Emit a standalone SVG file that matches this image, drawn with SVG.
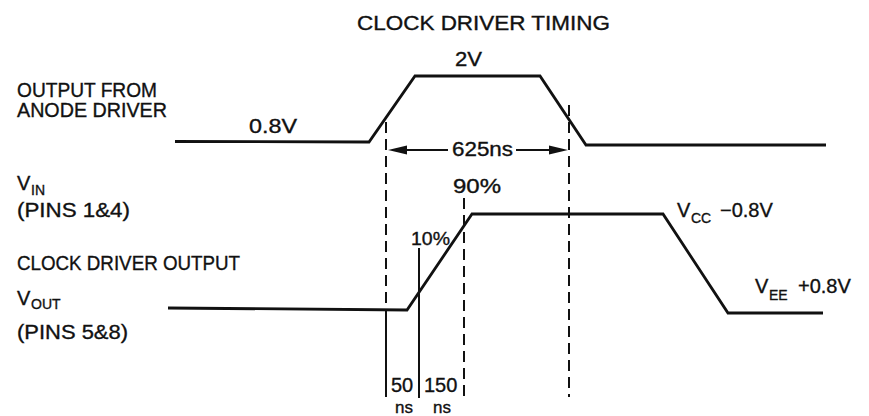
<svg xmlns="http://www.w3.org/2000/svg" width="869" height="416" viewBox="0 0 869 416">
<style>
text{font-family:"Liberation Sans",Arial,sans-serif;fill:#111;stroke:#111;stroke-width:0.35;font-size:20px}
.sub{font-size:14px}
.sm{font-size:18px}
.ns{font-size:17px}
.wave{fill:none;stroke:#111;stroke-width:2.8;stroke-linejoin:miter}
.dash{fill:none;stroke:#111;stroke-width:2;stroke-dasharray:11 6}
.thin{fill:none;stroke:#111;stroke-width:2}
.head{fill:#111}
</style>
<rect width="869" height="416" fill="#fff"/>
<g id="labels">
<text x="357" y="30" textLength="253" lengthAdjust="spacingAndGlyphs">CLOCK DRIVER TIMING</text>
<text x="17" y="97" textLength="140" lengthAdjust="spacingAndGlyphs">OUTPUT FROM</text>
<text x="17" y="117" textLength="150" lengthAdjust="spacingAndGlyphs">ANODE DRIVER</text>
<text x="17" y="190">V<tspan class="sub" x="31" dy="5">IN</tspan></text>
<text x="17" y="217" textLength="113" lengthAdjust="spacingAndGlyphs">(PINS 1&amp;4)</text>
<text x="17" y="270" textLength="223" lengthAdjust="spacingAndGlyphs">CLOCK DRIVER OUTPUT</text>
<text x="17" y="305">V<tspan class="sub" x="31" dy="4">OUT</tspan></text>
<text x="17" y="339" textLength="111" lengthAdjust="spacingAndGlyphs">(PINS 5&amp;8)</text>
</g>
<g id="anode-wave">
<path class="wave" d="M175 141.5 L369 142 L415 76 L540 76 L586 145 L826 145"/>
<text x="249" y="133" textLength="48" lengthAdjust="spacingAndGlyphs">0.8V</text>
<text x="455" y="66" textLength="27" lengthAdjust="spacingAndGlyphs">2V</text>
</g>
<g id="clock-wave">
<path class="wave" d="M168 308 L407 310 L472 214 L663 214 L728 313 L823 313"/>
<text x="677" y="217">V<tspan class="sub" x="691" dy="6">CC</tspan><tspan x="720" dy="-6">−0.8V</tspan></text>
<text x="755" y="293">V<tspan class="sub" x="769" dy="7">EE</tspan><tspan x="798" dy="-7">+0.8V</tspan></text>
</g>
<g id="connectors">
<line class="dash" x1="386" y1="122" x2="386" y2="312"/>
<line class="thin" x1="386" y1="312" x2="386" y2="397"/>
<line class="dash" x1="569" y1="105" x2="569" y2="397"/>
<line class="dash" x1="464" y1="198" x2="464" y2="398"/>
<line class="thin" x1="419" y1="248" x2="419" y2="398"/>
<line class="thin" x1="400" y1="150" x2="448" y2="150"/>
<line class="thin" x1="516" y1="150" x2="556" y2="150"/>
<polygon class="head" points="388,150 407,145.5 407,154.5"/>
<polygon class="head" points="568,150 549,145.5 549,154.5"/>
</g>
<g id="timing-labels">
<text x="452" y="156" textLength="61" lengthAdjust="spacingAndGlyphs">625ns</text>
<text x="453" y="193" textLength="48" lengthAdjust="spacingAndGlyphs">90%</text>
<text class="sm" x="411" y="245" textLength="39" lengthAdjust="spacingAndGlyphs">10%</text>
<text x="391" y="392">50<tspan class="ns" x="395" dy="21">ns</tspan></text>
<text x="424" y="392">150<tspan class="ns" x="433" dy="21">ns</tspan></text>
</g>
</svg>
